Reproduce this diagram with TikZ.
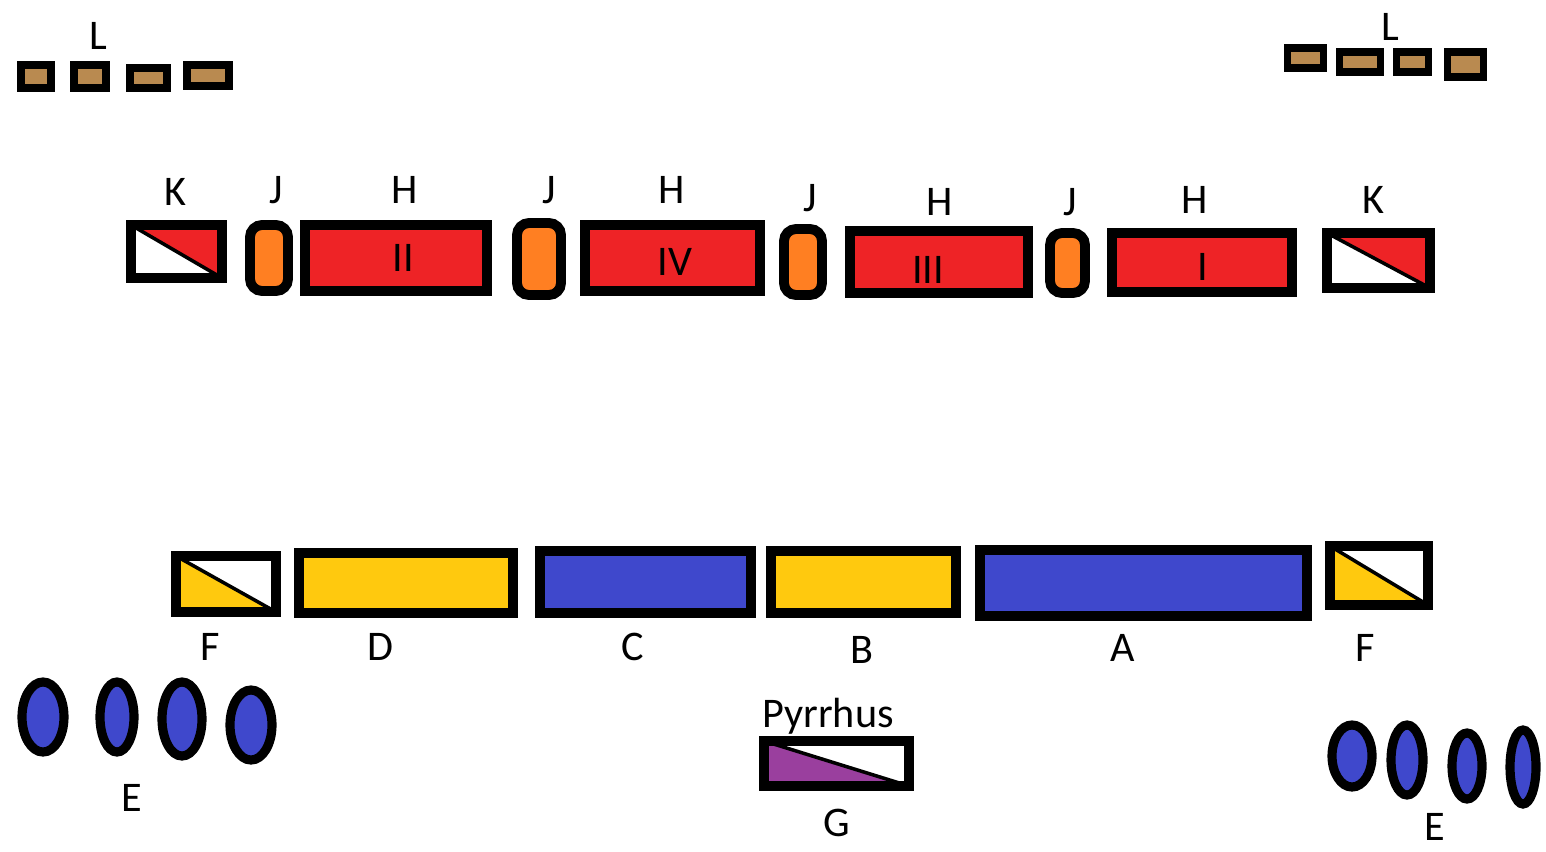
\documentclass[tikz,border=0pt]{standalone}
\usepackage{fontspec}
\setmainfont{Carlito}
\usepackage{tikz}

\definecolor{legred}{HTML}{EE2326}
\definecolor{legorange}{HTML}{FF7F22}
\definecolor{legyellow}{HTML}{FFC90E}
\definecolor{legblue}{HTML}{3F48CC}
\definecolor{legpurple}{HTML}{9A3F9E}
\definecolor{legbrown}{HTML}{B98A50}

\begin{document}
\begin{tikzpicture}[x=0.01cm,y=-0.01cm,
  unit/.style={draw=black,line width=2.8pt},
  camp/.style={draw=black,line width=2pt,fill=legbrown},
  split/.style={draw=black,line width=1pt},
  elephant/.style={draw=black,line width=2.6pt,fill=legblue},
  lbl/.style={font=\fontsize{12}{14}\selectfont,inner sep=0pt}]
\useasboundingbox (0,0) rectangle (1546,851);

% camps
\draw [camp] (21,65) rectangle (51,88);
\draw [camp] (74,65) rectangle (106,88);
\draw [camp] (130,68) rectangle (167,88);
\draw [camp] (187,65) rectangle (229,86);
\draw [camp] (1287,48) rectangle (1323,68);
\draw [camp] (1339,52) rectangle (1380,72);
\draw [camp] (1396,52) rectangle (1428,72);
\draw [camp] (1447,52) rectangle (1483,77);
\node [lbl] (l1) at (98,36) {L};
\node [lbl] (l2) at (1390,27) {L};

% roman line
\fill [legred] (131,225) -- (222,225) -- (222,278) -- cycle;
\draw [split] (131,225) -- (222,278);
\draw [unit] (131,225) rectangle (222,278);
\draw [unit,fill=legorange,rounded corners=1.2mm] (250,225) rectangle (288,291);
\draw [unit,fill=legred] (305,225) rectangle (487,291);
\draw [unit,fill=legorange,rounded corners=1.2mm] (517,223) rectangle (561,295);
\draw [unit,fill=legred] (585,225) rectangle (760,291);
\draw [unit,fill=legorange,rounded corners=1.2mm] (784,229) rectangle (822,295);
\draw [unit,fill=legred] (850,231) rectangle (1028,293);
\draw [unit,fill=legorange,rounded corners=1.2mm] (1050,233) rectangle (1085,293);
\draw [unit,fill=legred] (1112,233) rectangle (1292,292);
\fill [legred] (1327,233) -- (1430,233) -- (1430,288) -- cycle;
\draw [split] (1327,233) -- (1430,288);
\draw [unit] (1327,233) rectangle (1430,288);
\node [lbl] (k1) at (175,192) {K};
\node [lbl] (j1) at (276,190) {J};
\node [lbl] (h1) at (405,190) {H};
\node [lbl] (j2) at (549,190) {J};
\node [lbl] (h2) at (672,190) {H};
\node [lbl] (j3) at (810,198) {J};
\node [lbl] (h3) at (940,202) {H};
\node [lbl] (j4) at (1070,202) {J};
\node [lbl] (h4) at (1195,200) {H};
\node [lbl] (k2) at (1373,200) {K};
\node [lbl] (n2) at (403,258) {II};
\node [lbl] (n4) at (675,262) {IV};
\node [lbl] (n3) at (928,270) {III};
\node [lbl] (n1) at (1203,267) {I};

% pyrrhus line
\fill [legyellow] (176,556) -- (176,612) -- (276,612) -- cycle;
\draw [split] (176,556) -- (276,612);
\draw [unit] (176,556) rectangle (276,612);
\draw [unit,fill=legyellow] (299,553) rectangle (513,613);
\draw [unit,fill=legblue] (540,551) rectangle (751,613);
\draw [unit,fill=legyellow] (771,551) rectangle (956,613);
\draw [unit,fill=legblue] (980,550) rectangle (1307,616);
\fill [legyellow] (1330,546) -- (1330,605) -- (1428,605) -- cycle;
\draw [split] (1330,546) -- (1428,605);
\draw [unit] (1330,546) rectangle (1428,605);
\node [lbl] (f1) at (210,647) {F};
\node [lbl] (d) at (380,647) {D};
\node [lbl] (c) at (633,647) {C};
\node [lbl] (b) at (862,650) {B};
\node [lbl] (a) at (1123,648) {A};
\node [lbl] (f2) at (1365,648) {F};

% pyrrhus
\fill [legpurple] (764,741) -- (764,786) -- (909,786) -- cycle;
\draw [split] (764,741) -- (909,786);
\draw [unit] (764,741) rectangle (909,786);
\node [lbl] (p) at (828,716) {Pyrrhus};
\node [lbl] (g) at (837,823) {G};

% elephants
\draw [elephant] (43,717) ellipse [x radius=21, y radius=35];
\draw [elephant] (117,717) ellipse [x radius=17, y radius=35];
\draw [elephant] (182,719) ellipse [x radius=20, y radius=37];
\draw [elephant] (251,725) ellipse [x radius=21, y radius=35];
\draw [elephant] (1352,756) ellipse [x radius=20, y radius=31];
\draw [elephant] (1407,760) ellipse [x radius=16, y radius=35];
\draw [elephant] (1467,766) ellipse [x radius=15, y radius=33];
\draw [elephant] (1523,767) ellipse [x radius=13, y radius=37];
\node [lbl] (e1) at (132,798) {E};
\node [lbl] (e2) at (1435,827) {E};
\end{tikzpicture}
\end{document}
